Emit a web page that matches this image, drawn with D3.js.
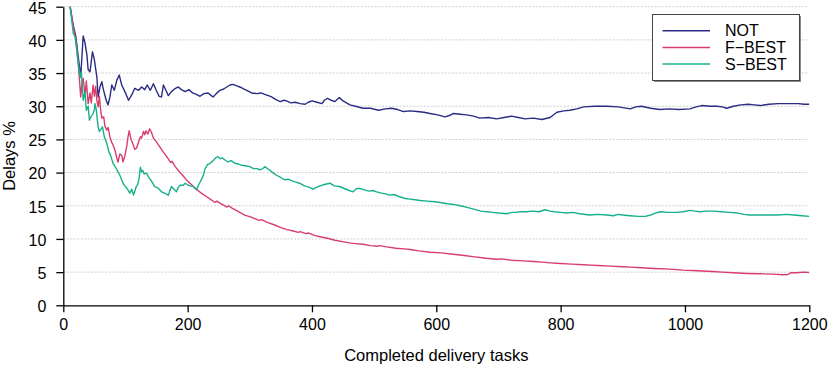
<!DOCTYPE html>
<html>
<head>
<meta charset="utf-8">
<script src="https://cdn.jsdelivr.net/npm/d3@7"></script>
<style>
    body { margin: 0; background: #fff; }
    svg { display: block; font-family: "Liberation Sans", Arial, sans-serif; }
    .grid line { stroke: #cfcfcf; stroke-width: 1; stroke-dasharray: 2,1.5; }
    .axis path, .axis line { stroke: #000; stroke-width: 1.3; }
    .axis text { font-size: 16px; fill: #000; }
    .series { fill: none; stroke-width: 1.4; stroke-linejoin: round; }
</style>
</head>
<body>
<svg width="830" height="365"></svg>
<script>
// Series labels and colours
const seriesNames = ["NOT", "F\u2212BEST", "S\u2212BEST"];
const seriesColors = ["#2b2b85", "#d93d6d", "#17b08c"];

// Tick labels
const xTicks = [0, 200, 400, 600, 800, 1000, 1200];
const yTicks = [0, 5, 10, 15, 20, 25, 30, 35, 40, 45];

// NOT: completed tasks / delays %
const notTasks = [3, 7, 11, 16, 20, 24, 28, 32, 35, 38, 40, 43, 46, 47, 50, 54, 56, 59, 62, 64, 69, 72, 75, 78, 82, 86, 90, 94, 99, 105,
    110, 115, 121, 126, 131, 135, 140, 145, 150, 154, 158, 161, 165, 169, 174, 179, 185, 190, 196, 202, 208, 214, 220, 226, 233, 238, 241, 246, 252, 258,
    263, 268, 273, 278, 284, 290, 295, 303, 311, 318, 324, 330, 335, 342, 349, 355, 359, 366, 373, 381, 389, 394, 400, 408, 416, 420, 425, 431, 437, 444,
    450, 461, 470, 482, 494, 507, 518, 528, 538, 547, 558, 569, 580, 590, 602, 614, 621, 627, 638, 649, 660, 670, 684, 697, 709, 721, 732, 743, 756, 770,
    783, 794, 805, 815, 826, 837, 855, 874, 893, 912, 921, 930, 945, 960, 975, 990, 1008, 1018, 1027, 1040, 1051, 1060, 1067, 1078, 1090, 1102, 1111, 1121, 1135, 1150,
    1166, 1182, 1192, 1200];
const notDelay = [66, 50, 45, 42.2, 40.6, 37.5, 34.4, 40.6, 39.5, 37.7, 35.5, 35.2, 37.5, 38.2, 37.0, 34.4, 31.4, 32.9, 33.7, 32.7, 30.9, 30.2, 31.4, 33.2, 32.4, 33.9, 34.7, 33.2, 32.2, 30.9,
    31.7, 32.7, 32.4, 32.9, 32.5, 33.2, 32.4, 33.4, 32.3, 31.5, 31.4, 33.2, 32.4, 31.6, 32.2, 32.6, 32.9, 32.5, 32.2, 32.5, 32.0, 31.8, 31.5, 31.9, 32.0, 31.6, 31.4, 31.9, 32.4, 32.6,
    32.9, 33.2, 33.3, 33.1, 32.9, 32.6, 32.4, 32.0, 31.9, 32.0, 31.8, 31.6, 31.4, 31.0, 30.7, 30.9, 30.8, 30.5, 30.6, 30.4, 30.3, 30.6, 30.8, 30.6, 30.4, 30.9, 31.2, 30.9, 30.7, 31.3,
    30.8, 30.2, 30.0, 29.7, 29.7, 29.4, 29.6, 29.7, 29.5, 29.2, 29.3, 29.2, 29.1, 28.9, 28.7, 28.4, 28.6, 28.9, 28.8, 28.7, 28.5, 28.2, 28.3, 28.1, 28.3, 28.5, 28.3, 28.1, 28.2, 28.0,
    28.3, 29.1, 29.3, 29.4, 29.6, 29.9, 30.0, 30.0, 29.9, 29.6, 29.9, 30.0, 29.7, 29.5, 29.6, 29.5, 29.6, 29.9, 30.1, 30.0, 30.0, 29.9, 29.7, 30.0, 30.2, 30.3, 30.2, 30.1, 30.3, 30.4,
    30.4, 30.4, 30.3, 30.3];

// F-BEST
const fbestTasks = [3, 7, 11, 16, 20, 24, 28, 30, 32, 35, 37, 40, 43, 45, 48, 50, 52, 54, 56, 58, 60, 62, 65, 67, 70, 72, 75, 78, 80, 83,
    86, 88, 91, 94, 96, 99, 102, 104, 106, 109, 112, 115, 118, 121, 124, 126, 129, 131, 133, 136, 139, 142, 145, 150, 155, 160, 165, 170, 173, 175,
    180, 186, 192, 198, 206, 214, 222, 230, 238, 244, 247, 252, 260, 263, 266, 272, 282, 292, 302, 312, 316, 319, 328, 340, 350, 360, 370, 378, 381, 390,
    394, 405, 415, 425, 437, 449, 460, 470, 482, 494, 505, 509, 520, 535, 548, 558, 572, 590, 608, 627, 645, 662, 680, 697, 705, 720, 740, 756, 770, 783,
    800, 818, 837, 848, 860, 880, 900, 912, 930, 950, 975, 997, 1020, 1045, 1060, 1078, 1100, 1120, 1140, 1158, 1166, 1170, 1180, 1190, 1200];
const fbestDelay = [66, 50, 45, 42, 40, 36.5, 31.4, 33.5, 34.2, 31.5, 33.8, 30.4, 32.0, 30.5, 33.2, 31.5, 33.0, 30.9, 29.9, 31.5, 29.5, 28.2, 28.4, 27.0, 26.4, 26.8, 25.4, 24.5, 24.2, 23.4,
    22.2, 21.6, 22.8, 22.6, 21.6, 22.5, 23.9, 25.3, 26.3, 25.0, 24.3, 23.5, 23.7, 24.6, 25.4, 25.2, 26.2, 25.7, 26.3, 25.8, 26.6, 26.0, 25.2, 24.6, 23.9, 23.2, 22.6, 21.9, 21.5, 21.7,
    20.9, 20.2, 19.6, 18.9, 18.2, 17.5, 16.9, 16.4, 15.9, 15.5, 15.7, 15.4, 15.0, 14.8, 15.0, 14.6, 14.1, 13.6, 13.3, 12.9, 12.8, 12.9, 12.5, 12.1, 11.7, 11.4, 11.2, 11.0, 11.1, 10.8,
    10.9, 10.5, 10.3, 10.1, 9.8, 9.6, 9.4, 9.3, 9.2, 9.0, 8.9, 9.0, 8.8, 8.6, 8.5, 8.4, 8.2, 8.0, 7.9, 7.7, 7.5, 7.3, 7.1, 6.95, 7.0, 6.8, 6.7, 6.6, 6.5, 6.4,
    6.3, 6.2, 6.1, 6.05, 6.0, 5.9, 5.8, 5.75, 5.65, 5.55, 5.45, 5.3, 5.2, 5.1, 5.0, 4.9, 4.8, 4.75, 4.7, 4.6, 4.65, 4.9, 4.9, 5.0, 4.95];

// S-BEST
const sbestTasks = [3, 7, 11, 16, 19, 21, 24, 27, 29, 32, 35, 37, 40, 42, 45, 48, 50, 51, 53, 56, 58, 61, 63, 66, 70, 73, 76, 80, 84, 88,
    91, 94, 97, 100, 104, 107, 110, 113, 117, 120, 122, 124, 126, 128, 130, 134, 138, 142, 147, 152, 158, 163, 169, 172, 174, 178, 182, 185, 188, 193,
    196, 199, 204, 209, 214, 218, 222, 226, 228, 232, 236, 241, 246, 249, 252, 256, 260, 265, 270, 276, 281, 287, 295, 300, 306, 312, 316, 321, 324, 330,
    337, 343, 349, 356, 362, 367, 373, 380, 388, 395, 402, 408, 413, 420, 429, 436, 444, 452, 460, 466, 472, 477, 484, 492, 498, 504, 512, 518, 525, 532,
    540, 550, 558, 566, 574, 585, 598, 606, 618, 628, 638, 648, 660, 672, 681, 690, 700, 713, 722, 728, 735, 745, 755, 765, 775, 783, 790, 800, 810, 820,
    830, 847, 860, 874, 885, 892, 900, 911, 925, 936, 945, 952, 960, 972, 987, 997, 1008, 1016, 1024, 1035, 1045, 1058, 1072, 1085, 1095, 1104, 1120, 1136, 1150, 1163,
    1175, 1188, 1200];
const sbestDelay = [66, 50, 45, 41, 40.5, 39, 36.5, 34.4, 35.2, 30.9, 32.2, 29.4, 30.0, 27.9, 28.5, 28.9, 29.5, 30.4, 29.5, 26.9, 26.2, 26.6, 26.9, 25.4, 24.4, 23.2, 22.6, 21.4, 20.8, 20.1,
    19.6, 18.9, 18.2, 17.9, 17.4, 16.9, 17.5, 16.6, 17.8, 18.3, 19.2, 20.8, 20.1, 20.3, 19.8, 19.9, 19.2, 18.7, 17.9, 17.7, 17.1, 16.9, 16.6, 17.4, 17.9, 17.5, 17.1, 17.8, 18.1, 18.1,
    18.4, 18.2, 18.0, 17.9, 17.4, 18.2, 18.9, 19.8, 20.6, 21.2, 21.4, 21.8, 22.3, 22.4, 22.1, 22.2, 21.9, 21.6, 21.8, 21.4, 21.3, 21.1, 21.0, 20.9, 20.6, 20.6, 20.4, 20.6, 20.9, 20.5,
    20.0, 19.6, 19.3, 18.9, 19.0, 18.8, 18.6, 18.4, 18.0, 17.8, 17.5, 17.8, 18.0, 18.2, 18.4, 18.0, 17.9, 17.6, 17.3, 17.1, 17.6, 17.6, 17.4, 17.2, 17.3, 17.1, 16.9, 16.8, 16.6, 16.7,
    16.4, 16.1, 16.0, 15.9, 15.8, 15.7, 15.6, 15.5, 15.3, 15.2, 15.0, 14.8, 14.5, 14.2, 14.1, 14.0, 13.9, 13.8, 14.0, 14.0, 14.1, 14.1, 14.2, 14.1, 14.4, 14.2, 14.1, 14.0, 13.9, 14.0,
    13.8, 13.6, 13.7, 13.6, 13.5, 13.7, 13.6, 13.5, 13.4, 13.4, 13.6, 13.9, 14.1, 14.0, 14.0, 14.1, 14.3, 14.2, 14.1, 14.2, 14.2, 14.1, 14.0, 13.9, 13.7, 13.6, 13.6, 13.6, 13.6, 13.7,
    13.6, 13.5, 13.4];

const allTasks = [notTasks, fbestTasks, sbestTasks];
const allDelays = [notDelay, fbestDelay, sbestDelay];

const svg = d3.select("svg");
const margin = {top: 6.7, right: 20.7, bottom: 59.7, left: 63.3};
const width = 830 - margin.left - margin.right;
const height = 365 - margin.top - margin.bottom;

const x = d3.scaleLinear().domain([0, 1200]).range([0, width]);
const y = d3.scaleLinear().domain([0, 45]).range([height, 0]);

const g = svg.append("g").attr("transform", `translate(${margin.left},${margin.top})`);

// Clip lines to the plot box
svg.append("defs").append("clipPath").attr("id", "plot-clip")
    .append("rect").attr("x", 0).attr("y", 0).attr("width", width).attr("height", height);

// Dotted horizontal grid
g.append("g").attr("class", "grid")
    .selectAll("line")
    .data(yTicks.filter(d => d > 0))
    .join("line")
    .attr("x1", 0).attr("x2", width)
    .attr("y1", d => y(d)).attr("y2", d => y(d));

// Lines
const line = d3.line()
    .x(d => x(d[0]))
    .y(d => y(d[1]));

const lines = g.append("g").attr("clip-path", "url(#plot-clip)");
allTasks.forEach((tasks, i) => {
    const pts = tasks.map((t, j) => [t, allDelays[i][j]]);
    lines.append("path")
        .datum(pts)
        .attr("class", "series")
        .attr("stroke", seriesColors[i])
        .attr("d", line);
});

// Axes
g.append("g").attr("class", "axis")
    .attr("transform", `translate(0,${height})`)
    .call(d3.axisBottom(x).tickValues(xTicks).tickFormat(d3.format("d"))
        .tickSize(7).tickSizeOuter(0).tickPadding(6));

const yAxis = g.append("g").attr("class", "axis")
    .call(d3.axisLeft(y).tickValues(yTicks).tickSize(7).tickSizeOuter(0).tickPadding(10));
// nudge labels down a touch so the top one stays inside the page
yAxis.selectAll("text").attr("dy", "0.4em");

// Axis titles
svg.append("text")
    .attr("x", margin.left + width / 2)
    .attr("y", 361)
    .attr("text-anchor", "middle")
    .style("font-size", "16.5px")
    .text("Completed delivery tasks");

svg.append("text")
    .attr("transform", `translate(15,${margin.top + height / 2}) rotate(-90)`)
    .attr("text-anchor", "middle")
    .style("font-size", "16.5px")
    .text("Delays %");

// Legend with a small shadow
const legend = svg.append("g").attr("transform", "translate(652.5,14.5)");
legend.append("rect")
    .attr("x", 1.5).attr("y", 1.5).attr("width", 147).attr("height", 66)
    .attr("fill", "#8a8a8a");
legend.append("rect")
    .attr("x", 0).attr("y", 0).attr("width", 147).attr("height", 66)
    .attr("fill", "#fff").attr("stroke", "#444").attr("stroke-width", 1);

seriesNames.forEach((name, i) => {
    const ly = 16.2 + i * 16.7;
    legend.append("line")
        .attr("x1", 10).attr("x2", 57.5)
        .attr("y1", ly).attr("y2", ly)
        .attr("stroke", seriesColors[i]).attr("stroke-width", 1.5);
    legend.append("text")
        .attr("x", 72.5).attr("y", ly + 5.7)
        .style("font-size", "16px")
        .text(name);
});
</script>
</body>
</html>
